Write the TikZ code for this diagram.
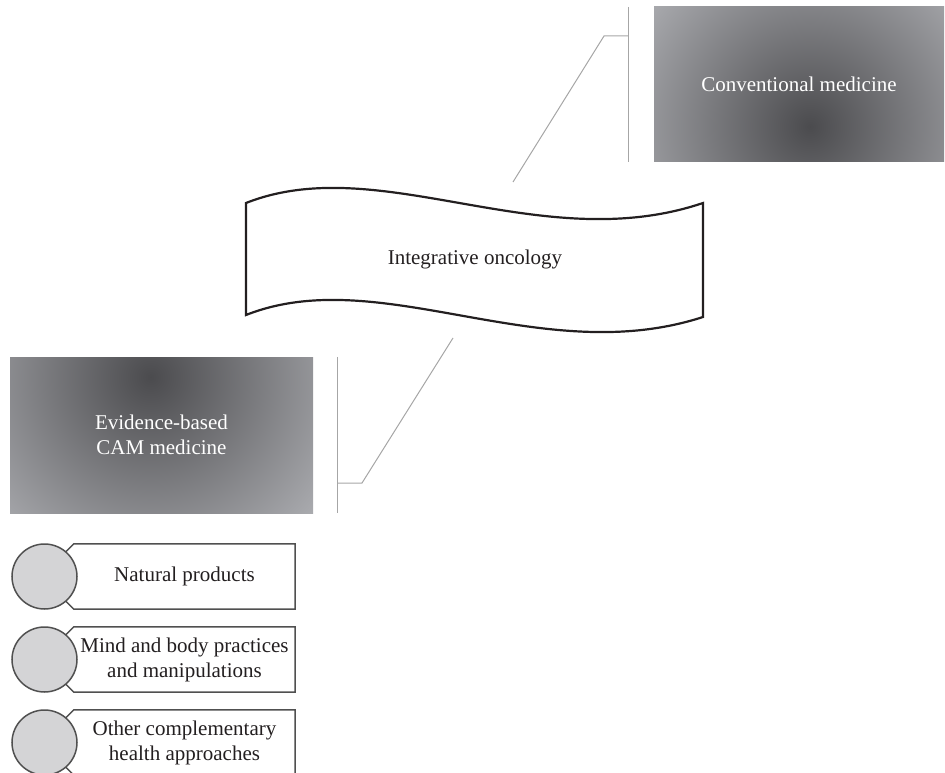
\documentclass[tikz,border=0pt]{standalone}
\usepackage{fontspec}
\setmainfont{Liberation Serif}
\usetikzlibrary{calc,positioning}
\definecolor{shadedark}{HTML}{4B4B4E}
\definecolor{shadelight}{HTML}{ABACB0}
\definecolor{bubble}{HTML}{D4D4D6}
\definecolor{rim}{HTML}{505050}
\definecolor{bracket}{HTML}{A6A6A6}
\definecolor{ink}{HTML}{231F20}

\begin{document}
\begin{tikzpicture}[x=1pt, y=-1pt,
  txt/.style={font=\fontsize{21}{25}\selectfont, align=center},
  gbox/.style={rectangle, minimum width=#1, minimum height=155pt, inner sep=0pt, txt, text=white},
  brk/.style={draw=bracket, line width=1pt},
  itm/.style={draw=rim, line width=1.5pt, fill=white},
  bub/.style={circle, draw=rim, line width=1.5pt, fill=bubble, minimum size=65pt, inner sep=0pt}
]
  \useasboundingbox (0,0) rectangle (945,773);
  % Conventional medicine
  \node[gbox=290pt, path picture={\shade[inner color=shadedark, outer color=shadelight]
    ($(path picture bounding box.center)+(11,42)$) circle (205);}] (conv) at (799,84.5) {Conventional medicine};
  \draw[brk] ($(conv.north west)+(-25,0)$) coordinate (cbt) -- ($(conv.south west)+(-25,0)$);
  \coordinate (convknee) at (604,36);
  \coordinate (convtip) at (513,182);
  \draw[brk] (convtip) -- (convknee) -- (convknee -| cbt);
  % Integrative oncology
  \draw[ink, line width=2.2pt, line join=miter] (246,203) .. controls (380,150) and (540,258) .. (703,203)
    -- (703,317) .. controls (540,370) and (380,262) .. (246,315) -- cycle;
  \node[txt, text=ink] (onc) at (475,259) {Integrative oncology};
  % Evidence-based CAM medicine
  \node[gbox=303pt, minimum height=156pt, path picture={\shade[inner color=shadedark, outer color=shadelight]
    ($(path picture bounding box.center)+(-11,-58)$) circle (215);}] (cam) at (161.5,435) {Evidence-based\\CAM medicine};
  \draw[brk] ($(cam.north east)+(24,0)$) -- ($(cam.south east)+(24,0)$) coordinate (ebb);
  \coordinate (camknee) at (362,483);
  \coordinate (camtip) at (453,338);
  \draw[brk] (camtip) -- (camknee) -- (camknee -| ebb);
  % CAM items
  \foreach \i/\t in {0/{Natural products},1/{Mind and body practices\\and manipulations},2/{Other complementary\\health approaches}}{
    \node[txt, minimum width=221pt, minimum height=65pt, inner sep=0pt] (it\i) at (184.5,576.5+83*\i) {};
    \draw[itm] ($(it\i.north west)+(-14,14)$) -- (it\i.north west) -- (it\i.north east)
      -- (it\i.south east) -- (it\i.south west) -- ++(-14,-14);
    \node[txt, text=ink] at (it\i) {\t};
    \node[bub] (b\i) at (44.5,576.5+83*\i) {};
  }
\end{tikzpicture}
\end{document}
